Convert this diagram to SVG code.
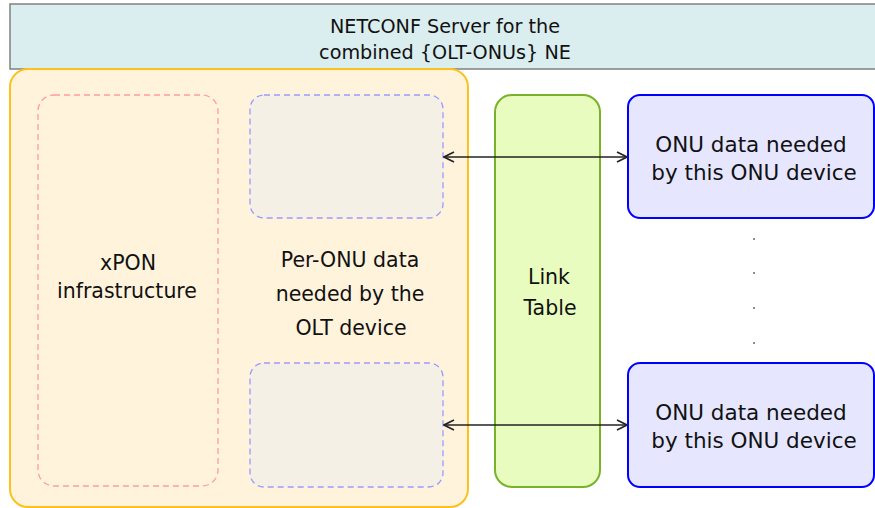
<svg xmlns="http://www.w3.org/2000/svg" width="875" height="508" viewBox="0 0 875 508">
<defs>
<style>
text{font-family:"DejaVu Sans","Verdana",sans-serif;fill:#111;text-anchor:middle}
.title{font-size:19.2px}
.main{font-size:20.5px}
.onu{font-size:21.5px}
.dash{stroke-dasharray:6 4;stroke-width:1.3}
.conn{stroke:#222;stroke-width:1.6;fill:none}
</style>
<marker id="ah" viewBox="0 0 12 12" refX="11" refY="6" markerWidth="12" markerHeight="12" markerUnits="userSpaceOnUse" orient="auto-start-reverse">
<path d="M1,1 L11,6 L1,11" fill="none" stroke="#222" stroke-width="1.6"/>
</marker>
</defs>
<rect width="875" height="508" fill="#fff"/>
<g id="netconf">
<rect x="10" y="4" width="872" height="65" fill="#daedef" stroke="#808080" stroke-width="1.5"/>
<text class="title" x="445" y="32.5">NETCONF Server for the</text>
<text class="title" x="445" y="58.5">combined {OLT-ONUs} NE</text>
</g>
<g id="olt">
<rect x="10" y="69" width="458" height="438" rx="18" fill="#fff3dc" stroke="#fcc21b" stroke-width="2"/>
</g>
<g id="xpon">
<rect x="38" y="95" width="180" height="391" rx="16" fill="#fff3dc" stroke="#ff9c9c" class="dash"/>
<text class="main" x="128" y="270">xPON</text>
<text class="main" x="127" y="298">infrastructure</text>
</g>
<g id="per-onu">
<text class="main" x="350" y="267">Per-ONU data</text>
<text class="main" x="350" y="301">needed by the</text>
<text class="main" x="351" y="335">OLT device</text>
</g>
<g id="per-onu-1">
<rect x="250" y="95" width="193" height="123" rx="14" fill="#f5f0e6" stroke="#9a9aff" class="dash"/>
</g>
<g id="per-onu-2">
<rect x="250" y="363" width="193" height="124" rx="14" fill="#f5f0e6" stroke="#9a9aff" class="dash"/>
</g>
<g id="link-table">
<rect x="495" y="95" width="105" height="392" rx="17" fill="#e8fcc0" stroke="#78b22a" stroke-width="2"/>
<text class="main" x="549" y="284">Link</text>
<text class="main" x="550" y="315">Table</text>
</g>
<g id="onu-1">
<rect x="628" y="95" width="246" height="123" rx="12" fill="#e6e6ff" stroke="#0000ff" stroke-width="2"/>
<text class="onu" x="751" y="152">ONU data needed</text>
<text class="onu" x="754" y="180">by this ONU device</text>
</g>
<g id="onu-2">
<rect x="628" y="363" width="246" height="124" rx="12" fill="#e6e6ff" stroke="#0000ff" stroke-width="2"/>
<text class="onu" x="751" y="420">ONU data needed</text>
<text class="onu" x="754" y="448">by this ONU device</text>
</g>
<g id="ellipsis" fill="#666">
<circle cx="754" cy="239" r="1"/>
<circle cx="754" cy="273" r="1"/>
<circle cx="754" cy="308" r="1"/>
<circle cx="754" cy="343" r="1"/>
</g>
<g id="connectors">
<line class="conn" x1="444" y1="157" x2="627" y2="157" marker-start="url(#ah)" marker-end="url(#ah)"/>
<line class="conn" x1="444" y1="425" x2="627" y2="425" marker-start="url(#ah)" marker-end="url(#ah)"/>
</g>
</svg>
